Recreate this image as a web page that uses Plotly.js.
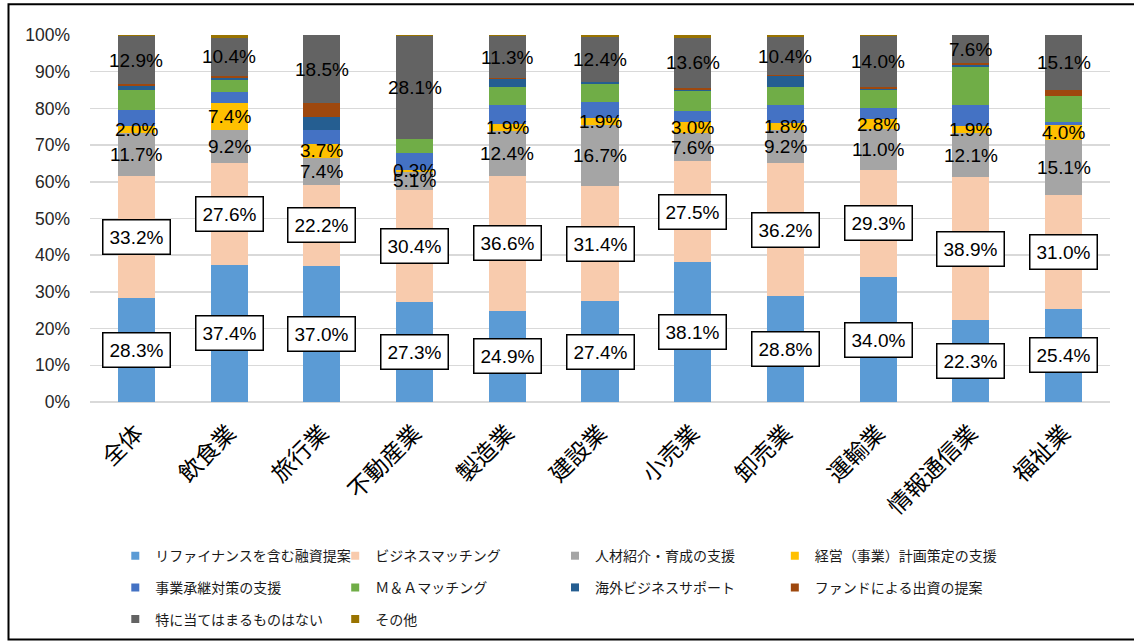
<!DOCTYPE html>
<html>
<head>
<meta charset="utf-8">
<script src="https://cdn.plot.ly/plotly-3.0.1.min.js"></script>
<style>
  html, body { margin: 0; padding: 0; background: #ffffff; }
  #chart { width: 1134px; height: 643px; }
</style>
</head>
<body>
<div id="chart"></div>
<script>
// 業種別：金融機関に期待する支援内容（構成比、%）
const categories = ['全体', '飲食業', '旅行業', '不動産業', '製造業', '建設業', '小売業', '卸売業', '運輸業', '情報通信業', '福祉業'];

const seriesNames = [
  'リファイナンスを含む融資提案', 'ビジネスマッチング', '人材紹介・育成の支援', '経営（事業）計画策定の支援',
  '事業承継対策の支援', 'Ｍ＆Ａマッチング', '海外ビジネスサポート', 'ファンドによる出資の提案',
  '特に当てはまるものはない', 'その他'
];

const refinance   = [28.3, 37.4, 37.0, 27.3, 24.9, 27.4, 38.1, 28.8, 34.0, 22.3, 25.4];
const matching    = [33.2, 27.6, 22.2, 30.4, 36.6, 31.4, 27.5, 36.2, 29.3, 38.9, 31.0];
const hrSupport   = [11.7, 9.2, 7.4, 5.1, 12.4, 16.7, 7.6, 9.2, 11.0, 12.1, 15.1];
const planSupport = [2.0, 7.4, 3.7, 0.3, 1.9, 1.9, 3.0, 1.8, 2.8, 1.9, 4.0];
const succession  = [4.5, 2.9, 3.7, 4.8, 5.1, 4.4, 3.2, 4.9, 2.9, 5.6, 0.7];
const maMatching  = [5.2, 3.2, 0.0, 3.7, 4.9, 4.8, 5.3, 4.9, 5.1, 10.5, 7.2];
const overseas    = [1.3, 0.6, 3.7, 0.0, 2.1, 0.5, 0.4, 2.9, 0.3, 0.5, 0.0];
const fund        = [0.5, 0.6, 3.7, 0.0, 0.4, 0.0, 0.5, 0.3, 0.4, 0.5, 1.5];
const noneApplies = [12.9, 10.4, 18.5, 28.1, 11.3, 12.4, 13.6, 10.4, 14.0, 7.6, 15.1];
const otherItems  = [0.4, 0.7, 0.0, 0.3, 0.4, 0.5, 0.8, 0.6, 0.2, 0.1, 0.0];

const yTicks = [0, 10, 20, 30, 40, 50, 60, 70, 80, 90, 100];

const series = [refinance, matching, hrSupport, planSupport, succession, maMatching, overseas, fund, noneApplies, otherItems];
const colors = ['#5B9BD5', '#F8CBAD', '#A5A5A5', '#FFC000', '#4472C4', '#70AD47', '#255E91', '#9E480E', '#636363', '#997300'];
// legend laid out in four columns, read left to right, row by row
const legendCol = ['legend', 'legend2', 'legend3', 'legend4', 'legend', 'legend2', 'legend3', 'legend4', 'legend', 'legend2'];
// which series carry value labels, and which of those are boxed
const labelled = [true, true, true, true, false, false, false, false, true, false];
const boxed = [true, true, false, false, false, false, false, false, false, false];

const jpFont = '"Noto Sans CJK JP", "Noto Sans", sans-serif';
const numFont = '"Liberation Sans", Arial, sans-serif';

// stacked bars
const barTraces = series.map((vals, i) => ({
  type: 'bar',
  name: seriesNames[i],
  x: categories,
  y: vals,
  marker: { color: colors[i] },
  showlegend: false,
  hoverinfo: 'skip'
}));

// small square keys for the legend
const keyTraces = seriesNames.map((name, i) => ({
  type: 'scatter', mode: 'markers',
  name: name,
  x: [null], y: [null],
  marker: { symbol: 'square', size: 8, color: colors[i] },
  legend: legendCol[i],
  legendgroup: 'k' + i,
  showlegend: true,
  hoverinfo: 'skip'
}));

// value labels centred on their stacked segments
const annotations = [];
const base = categories.map(() => 0);
series.forEach((vals, i) => {
  vals.forEach((v, j) => {
    if (labelled[i]) {
      const a = {
        x: categories[j], y: base[j] + v / 2, xref: 'x', yref: 'y',
        text: v.toFixed(1) + '%', showarrow: false,
        font: { family: numFont, size: 19, color: '#000000' }
      };
      if (boxed[i]) {
        a.bgcolor = '#ffffff';
        a.bordercolor = '#000000';
        a.borderwidth = 1.5;
        a.borderpad = 6;
      }
      annotations.push(a);
    }
    base[j] += v;
  });
});

const legendCommon = {
  orientation: 'v', xanchor: 'left', yanchor: 'top',
  y: -0.3763, traceorder: 'grouped', tracegroupgap: 10.5,
  font: { family: jpFont, size: 14, color: '#1a1a1a' },
  bgcolor: 'rgba(0,0,0,0)'
};

const layout = {
  width: 1134, height: 643,
  margin: { l: 89.6, r: 23.6, t: 34.7, b: 240.8, autoexpand: false },
  paper_bgcolor: '#ffffff', plot_bgcolor: '#ffffff',
  barmode: 'stack', bargap: 0.6,
  showlegend: true,
  xaxis: {
    type: 'category', tickangle: -45,
    tickfont: { family: jpFont, size: 23, color: '#000000' },
    showgrid: false, zeroline: false, showline: false, ticks: '',
    ticklabelstandoff: 12
  },
  yaxis: {
    range: [0, 100], tickvals: yTicks, ticktext: yTicks.map(t => t + '%'),
    tickfont: { family: numFont, size: 17.5, color: '#262626' },
    showgrid: true, gridcolor: '#D9D9D9', gridwidth: 1.5,
    zeroline: true, zerolinecolor: '#D9D9D9', zerolinewidth: 1.5,
    showline: false, ticks: '', ticklabelstandoff: 19
  },
  legend: Object.assign({}, legendCommon, { x: 0.0248 }),
  legend2: Object.assign({}, legendCommon, { x: 0.2404 }),
  legend3: Object.assign({}, legendCommon, { x: 0.4559 }),
  legend4: Object.assign({}, legendCommon, { x: 0.6714 }),
  annotations: annotations,
  shapes: [{
    type: 'rect', xref: 'paper', yref: 'paper',
    x0: -0.0799, x1: 1.2, y0: -0.647, y1: 1.0835,
    line: { color: '#000000', width: 2 }, fillcolor: 'rgba(0,0,0,0)'
  }]
};

Plotly.newPlot('chart', barTraces.concat(keyTraces), layout, { displayModeBar: false, staticPlot: true });
</script>
</body>
</html>
